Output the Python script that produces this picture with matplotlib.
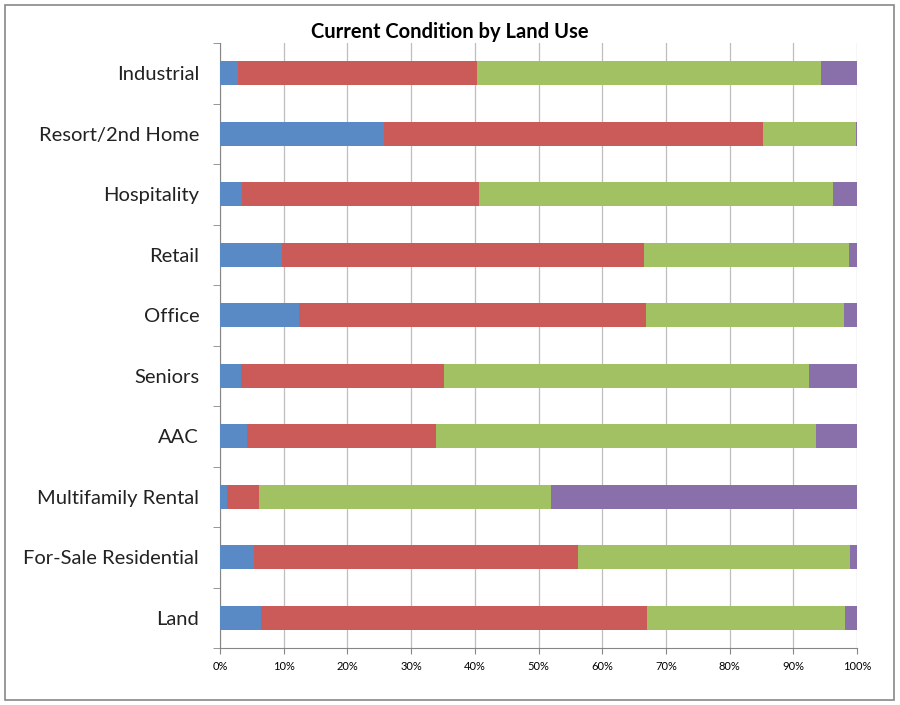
import matplotlib
matplotlib.use("Agg")
import matplotlib.pyplot as plt
from matplotlib.patches import Rectangle
from matplotlib.ticker import PercentFormatter, FixedLocator
import numpy as np

plt.rcParams['font.family'] = ['Lato', 'DejaVu Sans']

# categories listed bottom to top
land_use = ["Land", "For-Sale Residential", "Multifamily Rental", "AAC", "Seniors",
            "Office", "Retail", "Hospitality", "Resort/2nd Home", "Industrial"]

# share of each condition group (percent), same order as land_use
blue = [6.5, 5.4, 1.1, 4.3, 3.3, 12.4, 9.7, 3.4, 25.7, 2.9]
red = [60.6, 50.8, 5.0, 29.6, 31.8, 54.5, 56.8, 37.2, 59.6, 37.5]
green = [31.0, 42.7, 45.8, 59.6, 57.4, 31.0, 32.2, 55.7, 14.6, 53.9]
purple = [1.9, 1.1, 48.1, 6.5, 7.5, 2.1, 1.3, 3.7, 0.1, 5.7]

series = [blue, red, green, purple]
colors = ["#5A8AC6", "#CA5B58", "#A2C162", "#8A70AA"]

fig = plt.figure(figsize=(9, 7.05), dpi=100)
ax = fig.add_axes([220 / 900, 1 - 648 / 705, 637 / 900, 605 / 705])

y = np.arange(len(land_use))
left = np.zeros(len(land_use))
for vals, c in zip(series, colors):
    vals = np.array(vals)
    ax.barh(y, vals, left=left, height=0.4, color=c, zorder=3)
    left += vals

ax.set_xlim(0, 100)
ax.set_ylim(-0.5, len(land_use) - 0.5)
ax.set_xticks(np.arange(0, 101, 10))
ax.xaxis.set_major_formatter(PercentFormatter(decimals=0))
ax.grid(axis="x", color="#BEBEBE", linewidth=0.9, zorder=0)

ax.set_yticks(y)
ax.set_yticklabels(land_use, fontsize=14.5, color="#222222")
ax.yaxis.set_minor_locator(FixedLocator(np.arange(-0.5, len(land_use), 1)))
ax.tick_params(axis="y", which="major", length=0, pad=15)
ax.tick_params(axis="y", which="minor", length=5, color="#868686")
ax.tick_params(axis="x", labelsize=8, length=4, color="#868686", pad=5)

for s in ["top", "right"]:
    ax.spines[s].set_visible(False)
for s in ["left", "bottom"]:
    ax.spines[s].set_color("#868686")

fig.text(0.5, 1 - 32 / 705, "Current Condition by Land Use", ha="center", va="center",
         fontsize=14.5, fontweight="bold")

fig.patches.append(Rectangle((5 / 900, 5 / 705), 889 / 900, 695 / 705, transform=fig.transFigure,
                             fill=False, edgecolor="#888888", linewidth=1.2))

fig.savefig("out.png", dpi=100)
